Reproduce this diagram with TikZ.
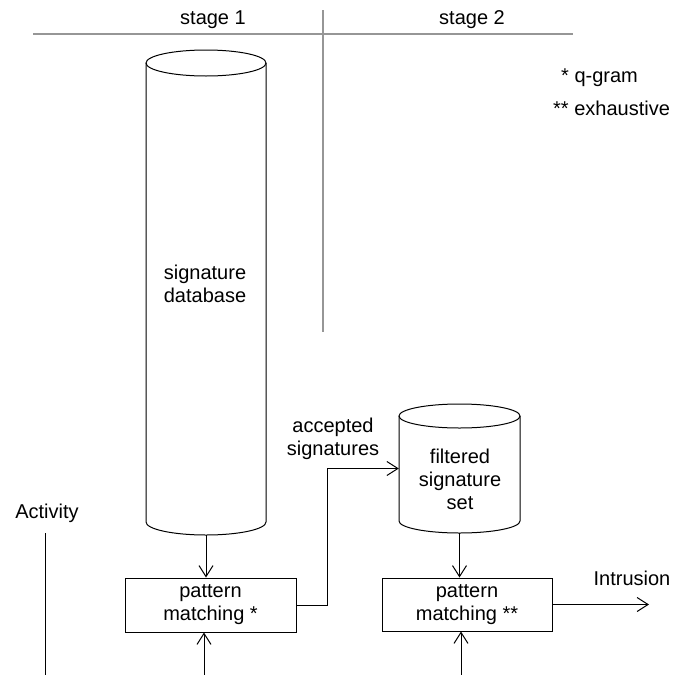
\documentclass[tikz,border=0pt]{standalone}
\usepackage{fontspec}
\setmainfont{Liberation Sans}
\usetikzlibrary{arrows.meta}
\definecolor{stagegray}{RGB}{150,150,150}
\begin{document}
\begin{tikzpicture}[x=1pt,y=-1pt,
  txt/.style={font=\fontsize{20}{23}\selectfont, align=center, inner sep=0pt},
  pmbox/.style={draw, line width=1pt, txt, minimum height=54pt},
  ln/.style={line width=1pt},
  arr/.style={ln, -{Straight Barb[length=11pt,width=14pt]}},
  stageline/.style={line width=1.5pt, draw=stagegray},
  cylarea/.style={inner sep=0pt, minimum width=120pt}]
\useasboundingbox (0,0) rectangle (678,675);

% stage header
\node[txt] (st1) at (213,20) {stage 1};
\node[txt] (st2) at (472,20) {stage 2};
\coordinate (hl) at (33,34);
\coordinate (hr) at (573,34);
\coordinate (vt) at (323,10);
\coordinate (vb) at (323,332);
\draw[stageline] (hl) -- (hr);
\draw[stageline] (vt) -- (vb);

% legend
\node[txt, anchor=west] (leg1) at (561,78) {* q-gram};
\node[txt, anchor=west] (leg2) at (553,108) {** exhaustive};

% signature database cylinder
\node[cylarea, minimum height=485pt] (db) at (206,292.5) {};
\node[txt] (dbtext) at (205,283.5) {signature\\database};
\draw[ln] (206,63) ellipse [x radius=60pt, y radius=13pt];
\draw[ln] (146,63) -- (146,522) arc[start angle=180, end angle=360, x radius=60pt, y radius=13pt] -- (266,63);

% filtered signature set cylinder
\node[cylarea, minimum width=121pt, minimum height=129pt] (fs) at (459.5,468.5) {};
\node[txt] (fstext) at (460,479.5) {filtered\\signature\\set};
\draw[ln] (459.5,416) ellipse [x radius=60.5pt, y radius=12pt];
\draw[ln] (399,416) -- (399,521) arc[start angle=180, end angle=360, x radius=60.5pt, y radius=12pt] -- (520,416);

% pattern matching boxes
\node[pmbox, minimum width=171pt] (pm1) at (210.5,605) {pattern\\matching *};
\node[pmbox, minimum width=170pt, minimum height=53pt] (pm2) at (467,604.5) {pattern\\matching **};

% labels
\node[txt] (acc) at (333,438.5) {accepted\\signatures};
\node[txt] (intr) at (632,578) {Intrusion};
\node[txt] (act) at (47,513) {Activity};

% connectors
\coordinate (bend) at (327,468.5);
\coordinate (in1) at (204,675);
\coordinate (in2) at (461,675);
\coordinate (out) at (649,604.5);
\coordinate (acttop) at (45,533);
\coordinate (actbot) at (45,675);

\draw[arr] (db.south) -- (db.south |- pm1.north);
\draw[arr] (fs.south) -- (fs.south |- pm2.north);
\draw[arr] (in1) -- (in1 |- pm1.south);
\draw[arr] (in2) -- (in2 |- pm2.south);
\draw[arr] (pm1.east) -| (bend) -- (fs.west);
\draw[arr] (pm2.east) -- (out);
\draw[ln] (acttop) -- (actbot);
\end{tikzpicture}
\end{document}
